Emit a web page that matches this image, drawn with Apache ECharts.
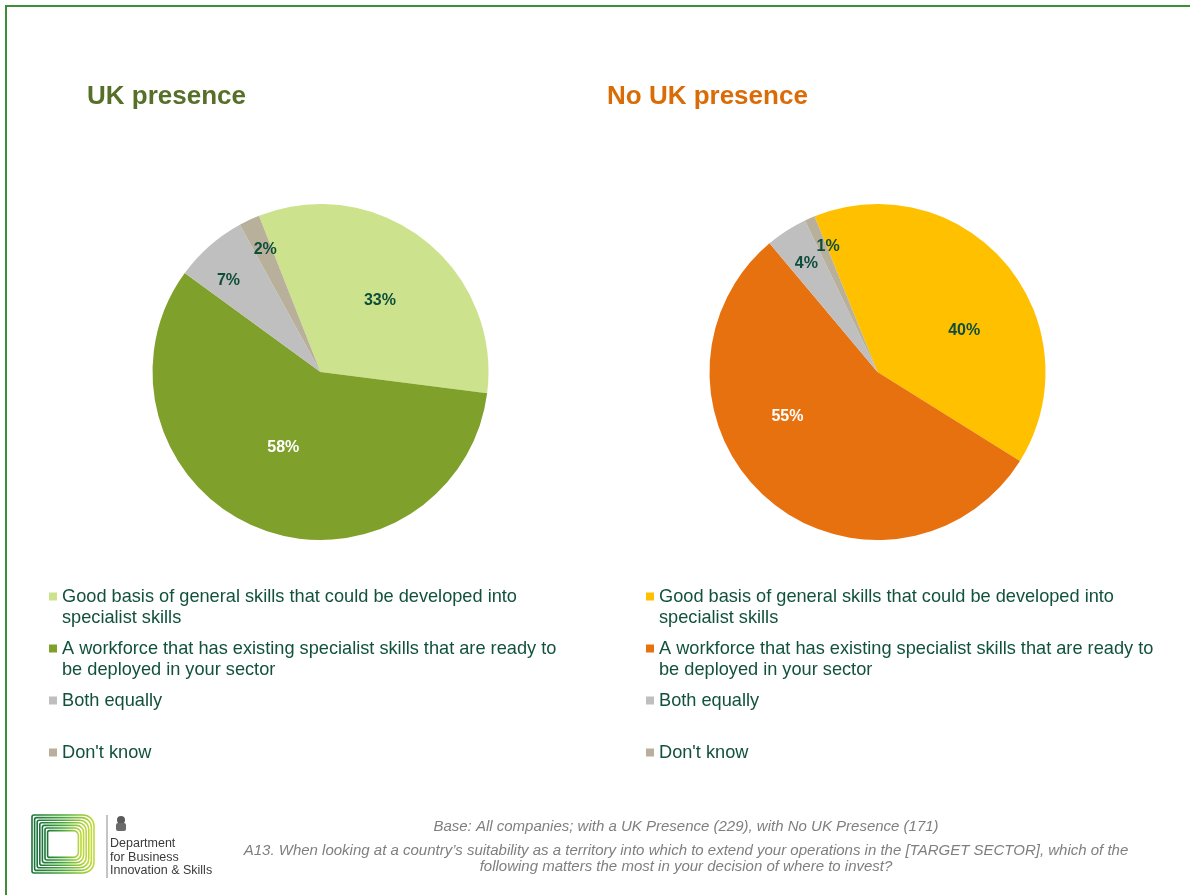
<!DOCTYPE html>
<html>
<head>
<meta charset="utf-8">
<script src="https://cdn.jsdelivr.net/npm/echarts@6/dist/echarts.min.js"></script>
<style>
html,body{margin:0;padding:0;background:#ffffff}
#chart{width:1190px;height:895px}
</style>
</head>
<body>
<div id="chart"></div>
<script>
// ---------- data ----------
const categories = [
  'Good basis of general skills that could be developed into specialist skills',
  'A workforce that has existing specialist skills that are ready to be deployed in your sector',
  'Both equally',
  "Don't know"
];
const legendLabels = [
  'Good basis of general skills that could be developed into\nspecialist skills',
  'A workforce that has existing specialist skills that are ready to\nbe deployed in your sector',
  'Both equally',
  "Don't know"
];
const ukPresence = [33, 58, 7, 2];
const noUkPresence = [40, 55, 4, 1];
const chartTitles = ['UK presence', 'No UK presence'];
const baseNote = 'Base: All companies; with a UK Presence (229), with No UK Presence (171)';
const questionNote = 'A13. When looking at a country\u2019s suitability as a territory into which to extend your operations in the [TARGET SECTOR], which of the\nfollowing matters the most in your decision of where to invest?';
const logoText = 'Department\nfor Business\nInnovation & Skills';

// ---------- styles ----------
const FONT = '"Liberation Sans", Arial, Helvetica, sans-serif';
const ukColors = ['#CDE28C', '#7FA02A', '#BFBFBF', '#B8B09A'];
const noUkColors = ['#FFC000', '#E8710F', '#BFBFBF', '#B8B09A'];
const labelColors = ['#0E4D3A', '#FFFFFF', '#0E4D3A', '#0E4D3A'];
const legendTextColor = '#11513D';
const R = 168;
const smallSliceLimit = 10;
const labelNudgeUK = {0: [6, -3], 1: [-5, -5], 2: [-3, 10], 3: [2, 0]};
const labelNudgeNoUK = {0: [20, 15], 1: [-33, -21], 2: [2, 5], 3: [5, -2]};

function pieSeries(values, colors, center, startAngle, nudge) {
  const base = {
    type: 'pie',
    center: center,
    startAngle: startAngle,
    clockwise: true,
    silent: true,
    avoidLabelOverlap: false,
    labelLine: {show: false},
    emphasis: {disabled: true},
    animation: false,
    labelLayout: function (p) {
      const n = nudge[p.dataIndex];
      return n ? {dx: n[0], dy: n[1], hideOverlap: false} : {hideOverlap: false};
    }
  };
  const labelStyle = {
    show: true, position: 'inside', formatter: '{c}%',
    fontSize: 16, fontWeight: 'bold', fontFamily: FONT
  };
  const main = Object.assign({}, base, {
    radius: [0, R],
    itemStyle: {borderWidth: 0},
    label: labelStyle,
    data: values.map((v, i) => ({
      name: categories[i], value: v,
      itemStyle: {color: colors[i]},
      label: {show: v >= smallSliceLimit, color: labelColors[i]}
    }))
  });
  const outerLabels = Object.assign({}, base, {
    radius: [R * 0.57, R],
    z: 3,
    itemStyle: {color: 'rgba(0,0,0,0)', borderWidth: 0},
    label: labelStyle,
    data: values.map((v, i) => ({
      name: categories[i], value: v,
      itemStyle: {color: 'rgba(0,0,0,0)'},
      label: {show: v < smallSliceLimit, color: labelColors[i]}
    }))
  });
  return [main, outerLabels];
}

// every legend entry is padded to three text lines so that the square sits on the first text line
function legendText(name) {
  const lines = legendLabels[categories.indexOf(name)].split('\n');
  return lines.length > 1 ? '\n' + lines.join('\n') : '\n' + lines[0] + '\n';
}

function legendFor(colors, left) {
  return {
    orient: 'vertical',
    left: left,
    top: 565,
    padding: 0,
    itemGap: -11,
    itemWidth: 8,
    itemHeight: 8,
    icon: 'rect',
    selectedMode: false,
    formatter: legendText,
    textStyle: {fontSize: 18.2, fontFamily: FONT, color: legendTextColor, lineHeight: 21},
    data: categories.map((c, i) => ({name: c, itemStyle: {color: colors[i]}}))
  };
}

const chart = echarts.init(document.getElementById('chart'), null, {renderer: 'canvas'});

const logoGrad = new echarts.graphic.LinearGradient(0, 0, 1, 0, [
  {offset: 0, color: '#17703A'},
  {offset: 0.5, color: '#49A73A'},
  {offset: 1, color: '#CADD3C'}
]);
const logoRects = [];
for (let i = 0; i < 7; i++) {
  logoRects.push({
    type: 'rect',
    shape: {x: 32 + 2.6 * i, y: 815 + 2.6 * i, width: 62 - 5.2 * i, height: 58 - 5.2 * i, r: [2, 11 - i, 11 - i, 2]},
    style: {fill: 'none', stroke: logoGrad, lineWidth: 1.6},
    silent: true
  });
}

const option = {
  backgroundColor: '#ffffff',
  animation: false,
  title: [
    {text: chartTitles[0], left: 87, top: 84, padding: 0,
     textStyle: {fontSize: 26, fontWeight: 'bold', fontFamily: FONT, color: '#56702A'}},
    {text: chartTitles[1], left: 607, top: 84, padding: 0,
     textStyle: {fontSize: 26, fontWeight: 'bold', fontFamily: FONT, color: '#DA6C08'}}
  ],
  legend: [legendFor(ukColors, 49), legendFor(noUkColors, 646)],
  series: [
    ...pieSeries(ukPresence, ukColors, [320.5, 372], 111.5, labelNudgeUK),
    ...pieSeries(noUkPresence, noUkColors, [877.5, 372], 112, labelNudgeNoUK)
  ],
  graphic: [
    {type: 'rect', silent: true, shape: {x: 6, y: 6, width: 1260, height: 960},
     style: {fill: 'none', stroke: '#3F8F34', lineWidth: 2}},
    {type: 'text', silent: true, x: 686, y: 827,
     style: {text: baseNote, align: 'center', verticalAlign: 'middle', fontSize: 15, fontStyle: 'italic', fontFamily: FONT, fill: '#7F7F7F'}},
    {type: 'text', silent: true, x: 686, y: 859,
     style: {text: questionNote, align: 'center', verticalAlign: 'middle', fontSize: 15, lineHeight: 16, fontStyle: 'italic', fontFamily: FONT, fill: '#7F7F7F'}},
    ...logoRects,
    {type: 'line', silent: true, shape: {x1: 107, y1: 815, x2: 107, y2: 878}, style: {stroke: '#8A8A8A', lineWidth: 1}},
    {type: 'circle', silent: true, shape: {cx: 121, cy: 820, r: 4}, style: {fill: '#5A5A5A'}},
    {type: 'rect', silent: true, shape: {x: 116, y: 823, width: 10, height: 8, r: 2}, style: {fill: '#6A6A6A'}},
    {type: 'text', silent: true, x: 110, y: 837,
     style: {text: logoText, fontSize: 12.5, lineHeight: 13.5, fontFamily: FONT, fill: '#3A3A3A', verticalAlign: 'top'}}
  ]
};
chart.setOption(option);
</script>
</body>
</html>
